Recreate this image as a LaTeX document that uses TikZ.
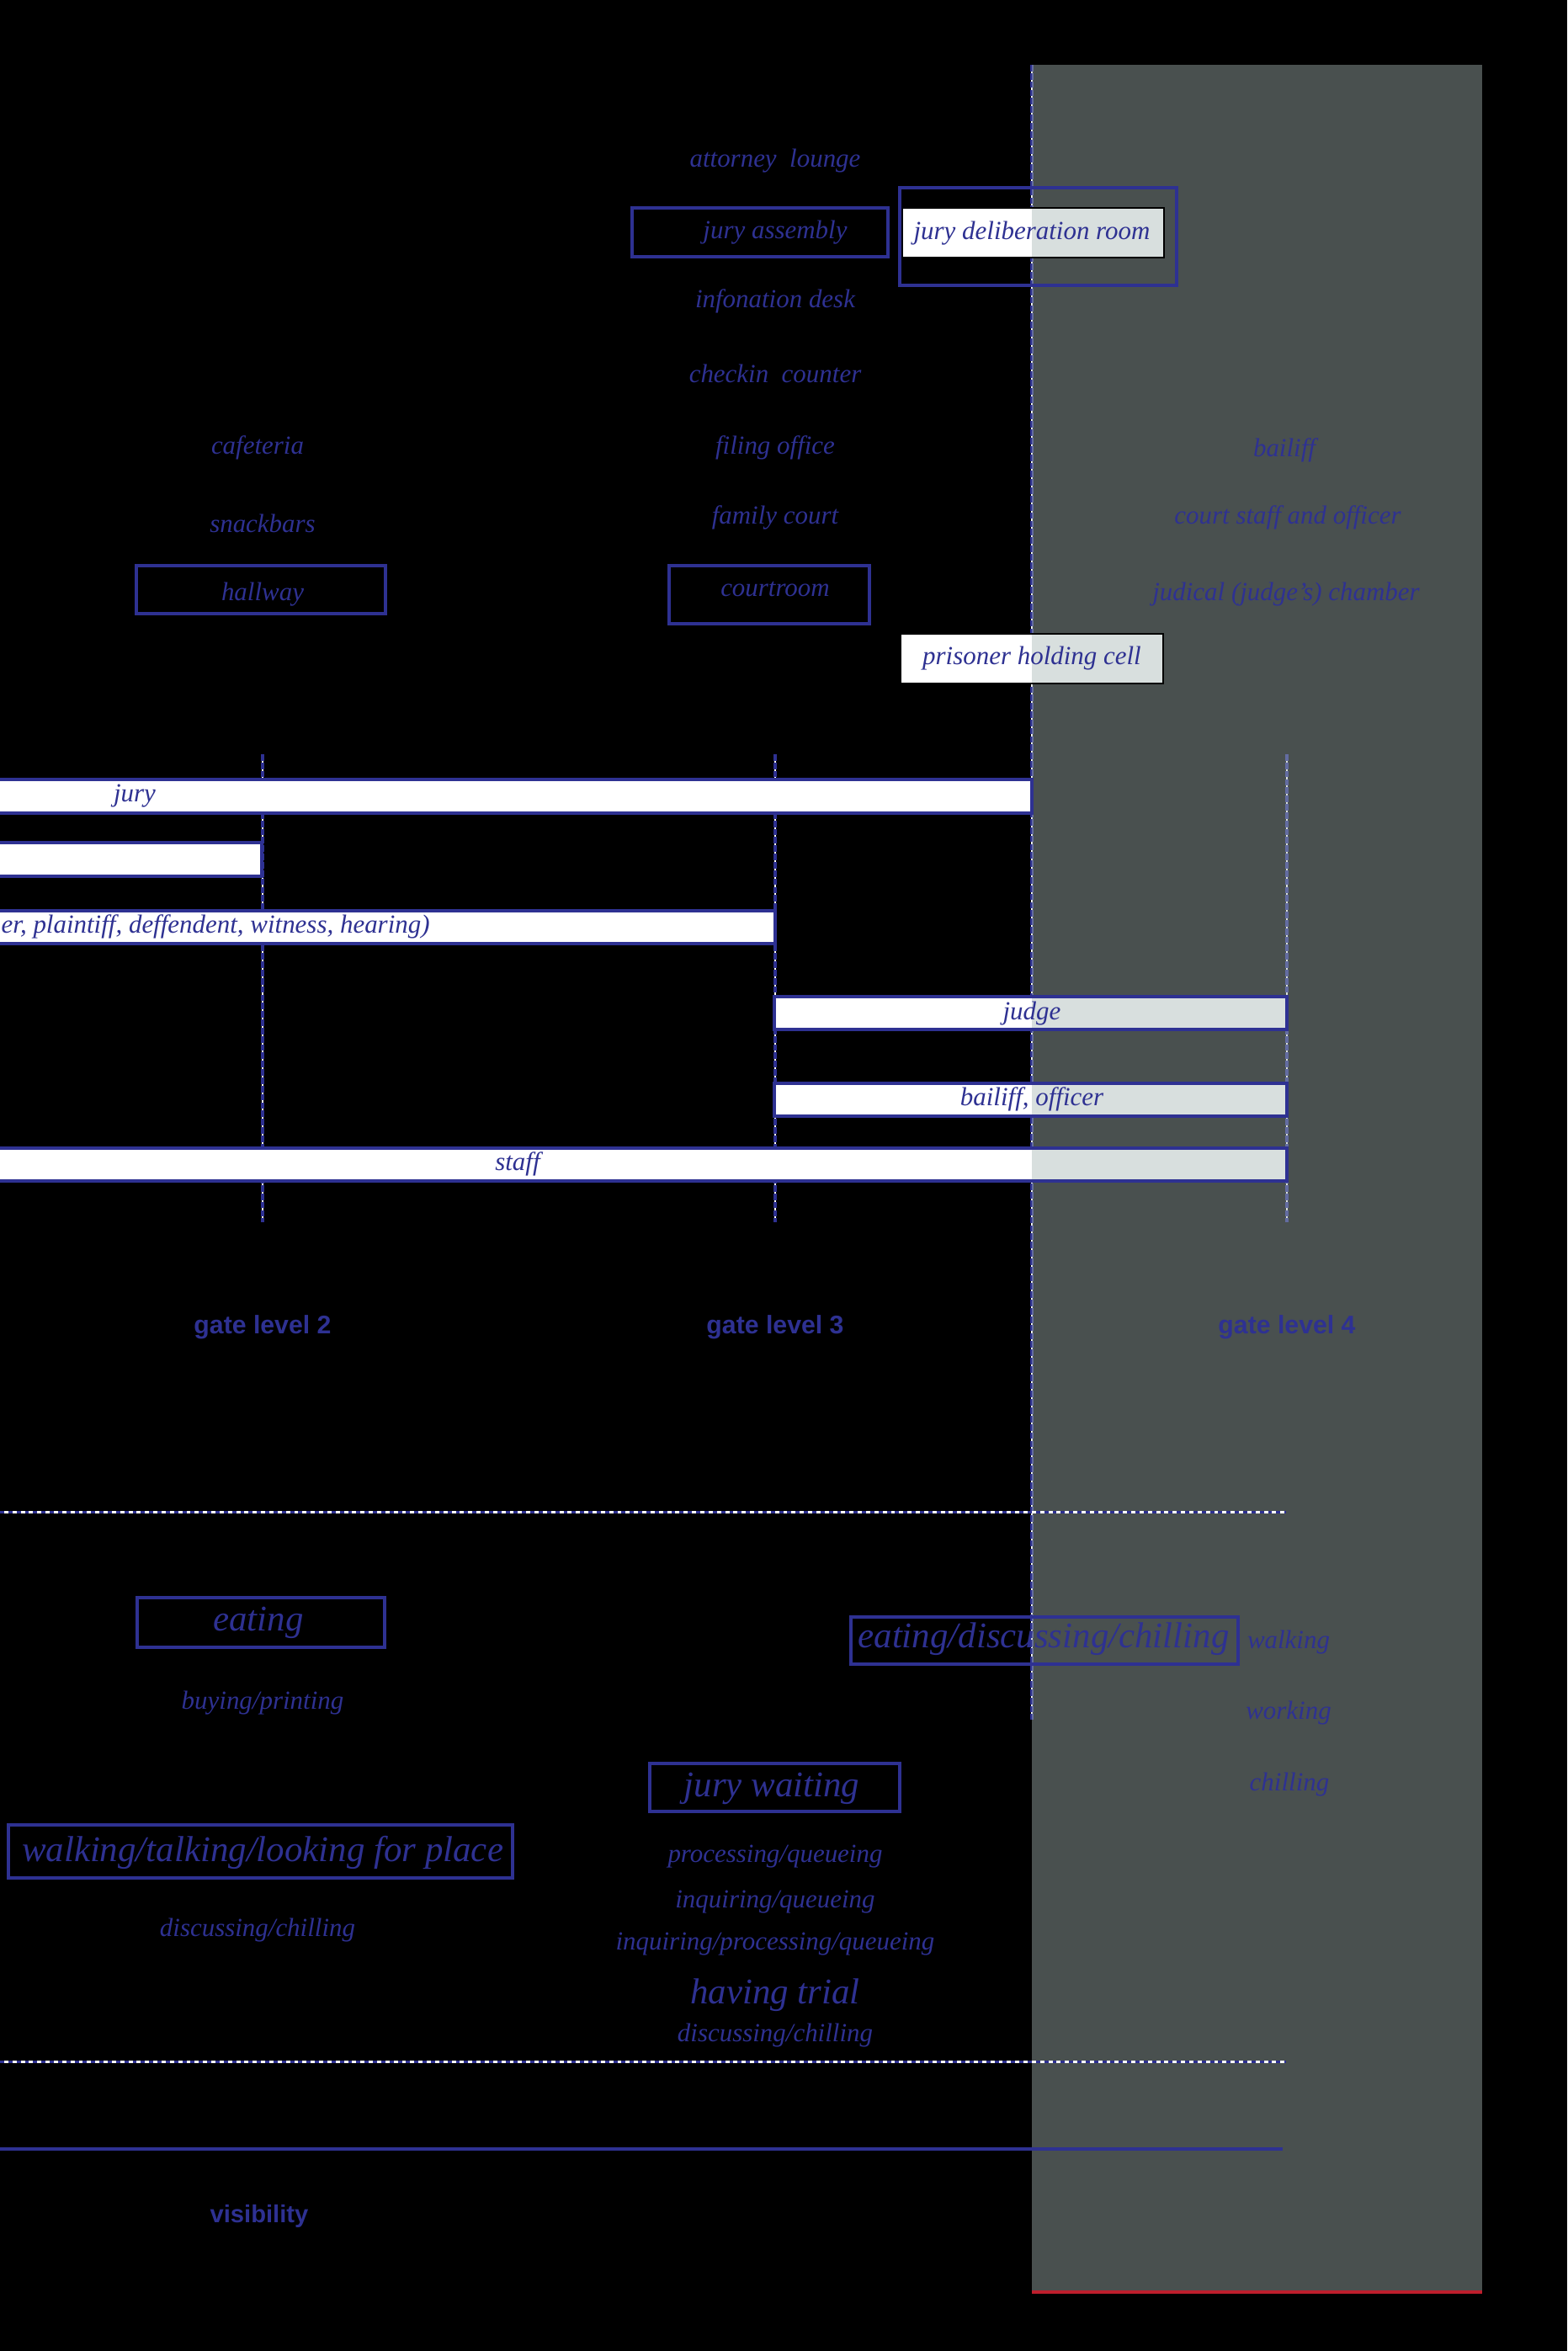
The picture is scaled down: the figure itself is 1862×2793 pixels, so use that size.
\documentclass[tikz,border=0pt]{standalone}
\usepackage{fontspec}
\setmainfont{Liberation Serif}
\setsansfont{Liberation Sans}
\definecolor{ink}{RGB}{46,49,146}
\definecolor{veil}{RGB}{168,184,182}
\definecolor{rim}{RGB}{190,30,45}

\begin{document}
\begin{tikzpicture}[
    x=0.01cm, y=-0.01cm,
    place/.style={font=\fontsize{8.8}{10}\selectfont\itshape, text=ink, inner sep=0pt},
    activity/.style={font=\fontsize{12.2}{14}\selectfont\itshape, text=ink, inner sep=0pt},
    gate/.style={font=\fontsize{8.6}{10}\selectfont\sffamily\bfseries, text=ink, inner sep=0pt},
    frame/.style={draw=ink, line width=1.1pt},
    cell/.style={draw=black, line width=0.4pt},
    gateline/.style={draw=ink, line width=0.9pt, dash pattern=on 2.2pt off 0.6pt,
        preaction={draw=white, solid, line width=0.4pt}},
    zoneline/.style={draw=ink, line width=0.85pt, dash pattern=on 1.4pt off 1.4pt,
        preaction={draw=white, solid, line width=0.85pt}}
]

\fill[black] (0,0) rectangle (1862,2793);
\clip (0,0) rectangle (1862,2793);

% Gate lines and zone edge (behind the bars)
\foreach \gx in {312,921,1529}
    \draw[gateline] (\gx,896) -- (\gx,1452);
\draw[gateline] (1226,77) -- (1226,2043);

% White fills (under the restricted zone)
\foreach \l/\t/\r/\b in {1072/247/1383/306, 1070/753/1382/812,
    -100/926/1226/966, -100/1001/311/1041, -100/1082/921/1121,
    920/1184/1529/1223, 920/1287/1529/1326, -100/1364/1529/1403}
    \fill[white] (\l,\t) rectangle (\r,\b);

% Restricted zone
\fill[veil, opacity=0.44] (1226,77) rectangle (1761,2723);
\draw[rim, line width=0.9pt] (1226,2723) -- (1761,2723);

% Spaces: gate level 3 column
\node[place] (lounge) at (921,191) {attorney~~lounge};
\draw[frame] (751,247) rectangle (1055,305);
\node[place] (assembly) at (921,276) {jury assembly};
\draw[frame] (1069,223) rectangle (1398,339);
\draw[cell] (1072,247) rectangle (1383,306);
\node[place] (deliberation) at (1226,277) {jury deliberation room};
\node[place] (infodesk) at (921,358) {infonation desk};
\node[place] (checkin) at (921,444) {checkin~~counter};
\node[place] (filing) at (921,532) {filing office};
\node[place] (family) at (921,615) {family court};
\draw[frame] (795,672) rectangle (1033,741);
\node[place] (courtroom) at (921,700) {courtroom};
\draw[cell] (1070,753) rectangle (1382,812);
\node[place] (holding) at (1226,782) {prisoner holding cell};

% Spaces: gate level 2 column
\node[place] (cafeteria) at (306,532) {cafeteria};
\node[place] (snackbars) at (312,622) {snackbars};
\draw[frame] (162,672) rectangle (458,729);
\node[place] (hallway) at (312,706) {hallway};

% Spaces: gate level 4 column
\node[place] (bailiffroom) at (1526,535) {bailiff};
\node[place] (staffroom) at (1530,615) {court staff and officer};
\node[place] (chamber) at (1528,706) {judical (judge's) chamber};

% Access bars
\foreach \l/\t/\r/\b in {-100/926/1226/966, -100/1001/311/1041, -100/1082/921/1121,
    920/1184/1529/1223, 920/1287/1529/1326, -100/1364/1529/1403}
    \draw[frame] (\l,\t) rectangle (\r,\b);
\node[place] (jury) at (160,946) {jury};
\node[place, anchor=west] (public) at (1,1101) {er, plaintiff, deffendent, witness, hearing)};
\node[place] (judge) at (1226,1204) {judge};
\node[place] (officer) at (1226,1306) {bailiff, officer};
\node[place] (staff) at (615,1383) {staff};

% Gate levels
\node[gate] (gatetwo) at (312,1577) {gate level 2};
\node[gate] (gatethree) at (921,1577) {gate level 3};
\node[gate] (gatefour) at (1529,1577) {gate level 4};

% Activities
\draw[zoneline] (0,1796) -- (1528,1796);
\draw[frame] (163,1898) rectangle (457,1957);
\node[activity] (eating) at (307,1928) {eating};
\node[place] (buying) at (312,2023) {buying/printing};
\draw[frame] (1011,1921) rectangle (1471,1977);
\node[activity] (lounging) at (1240,1947) {eating/discussing/chilling};
\node[place] (walking) at (1531,1951) {walking};
\node[place] (working) at (1531,2035) {working};
\node[place] (chilling) at (1532,2120) {chilling};
\draw[frame] (772,2095) rectangle (1069,2152);
\node[activity] (waiting) at (917,2125) {jury waiting};
\draw[frame] (10,2168) rectangle (609,2231);
\node[activity] (looking) at (312,2201) {walking/talking/looking for place};
\node[place] (processing) at (921,2206) {processing/queueing};
\node[place] (inquiring) at (921,2260) {inquiring/queueing};
\node[place] (discussleft) at (306,2293) {discussing/chilling};
\node[place] (inqproc) at (921,2310) {inquiring/processing/queueing};
\node[activity] (trial) at (921,2370) {having trial};
\node[place] (discussmid) at (921,2418) {discussing/chilling};
\draw[zoneline] (0,2449) -- (1528,2449);

% Visibility
\draw[ink, line width=1.1pt] (0,2553) -- (1524,2553);
\node[gate, font=\fontsize{8.3}{10}\selectfont\sffamily\bfseries] (visibility) at (308,2633) {visibility};

\end{tikzpicture}
\end{document}
